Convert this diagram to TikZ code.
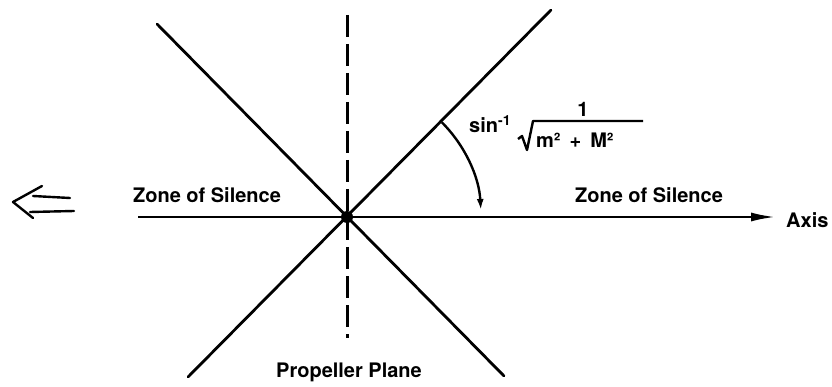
\documentclass[tikz,border=0pt]{standalone}
\usepackage{fontspec}
\setmainfont{TeX Gyre Heros}
\usetikzlibrary{arrows.meta,calc,positioning}

\begin{document}
\begin{tikzpicture}[x=1pt, y=-1pt,
  ray/.style={line width=2.8pt, line cap=round},
  plane/.style={line width=3pt, dash pattern=on 22pt off 7pt},
  axis line/.style={line width=2.2pt, -{Latex[length=24pt, width=9pt]}},
  angle arrow/.style={line width=2.4pt, -{Latex[length=11pt, width=7pt]}},
  lbl/.style={font=\fontsize{20}{24}\selectfont\bfseries, inner sep=0pt},
  small lbl/.style={font=\fontsize{20}{24}\selectfont\bfseries, inner sep=0pt}
]
  \useasboundingbox (0,0) rectangle (832,387);
  % centre of the propeller
  \coordinate (O) at (347,217);
  \coordinate (axL) at (138,217);
  \coordinate (axR) at (775,217);
  \coordinate (plT) at (347,15);
  \coordinate (plB) at (347,338);
  \coordinate (UL) at (157,24);
  \coordinate (LR) at (504,376);
  \coordinate (UR) at (551,10);
  \coordinate (LL) at (188,377);
  % lines
  \draw[axis line] (axL) -- (axR);
  \draw[plane] (plT) -- (plB);
  \draw[ray] (UL) -- (LR);
  \draw[ray] (UR) -- (LL);
  \fill (O) circle (6);
  % angle
  \draw[angle arrow] ($(O)+(-45:134)$) arc[start angle=-45, end angle=-3, radius=134];
  % labels
  \node[lbl] (zoneL) at (207,195) {Zone of Silence};
  \node[lbl] (zoneR) at (649,195) {Zone of Silence};
  \node[lbl, anchor=west] (axis) at (786,220) {Axis};
  \node[lbl] (plane) at (349,372) {Propeller Plane};
  \node[lbl, anchor=base west] (sinlbl) at (469,133) {sin\textsuperscript{-1}};
  \node[small lbl, anchor=base] (num) at (583,117) {1};
  \node[small lbl, anchor=base west] (den) at (536,148) {m²\hspace{9pt}+\hspace{9pt}M²};
  \draw[line width=2.4pt, line join=round] (518,139) -- (522,136) -- (527,150) -- (533,121) -- (643,121);
  % flight direction
  \coordinate (tip) at (13,202);
  \draw[line width=2.4pt, line cap=round, line join=round] (42,186) -- (tip) -- (33,218);
  \draw[line width=2.4pt, line cap=round] (33,196) -- (70,198);
  \draw[line width=2.4pt, line cap=round] (30,212) -- (74,211);
\end{tikzpicture}
\end{document}
